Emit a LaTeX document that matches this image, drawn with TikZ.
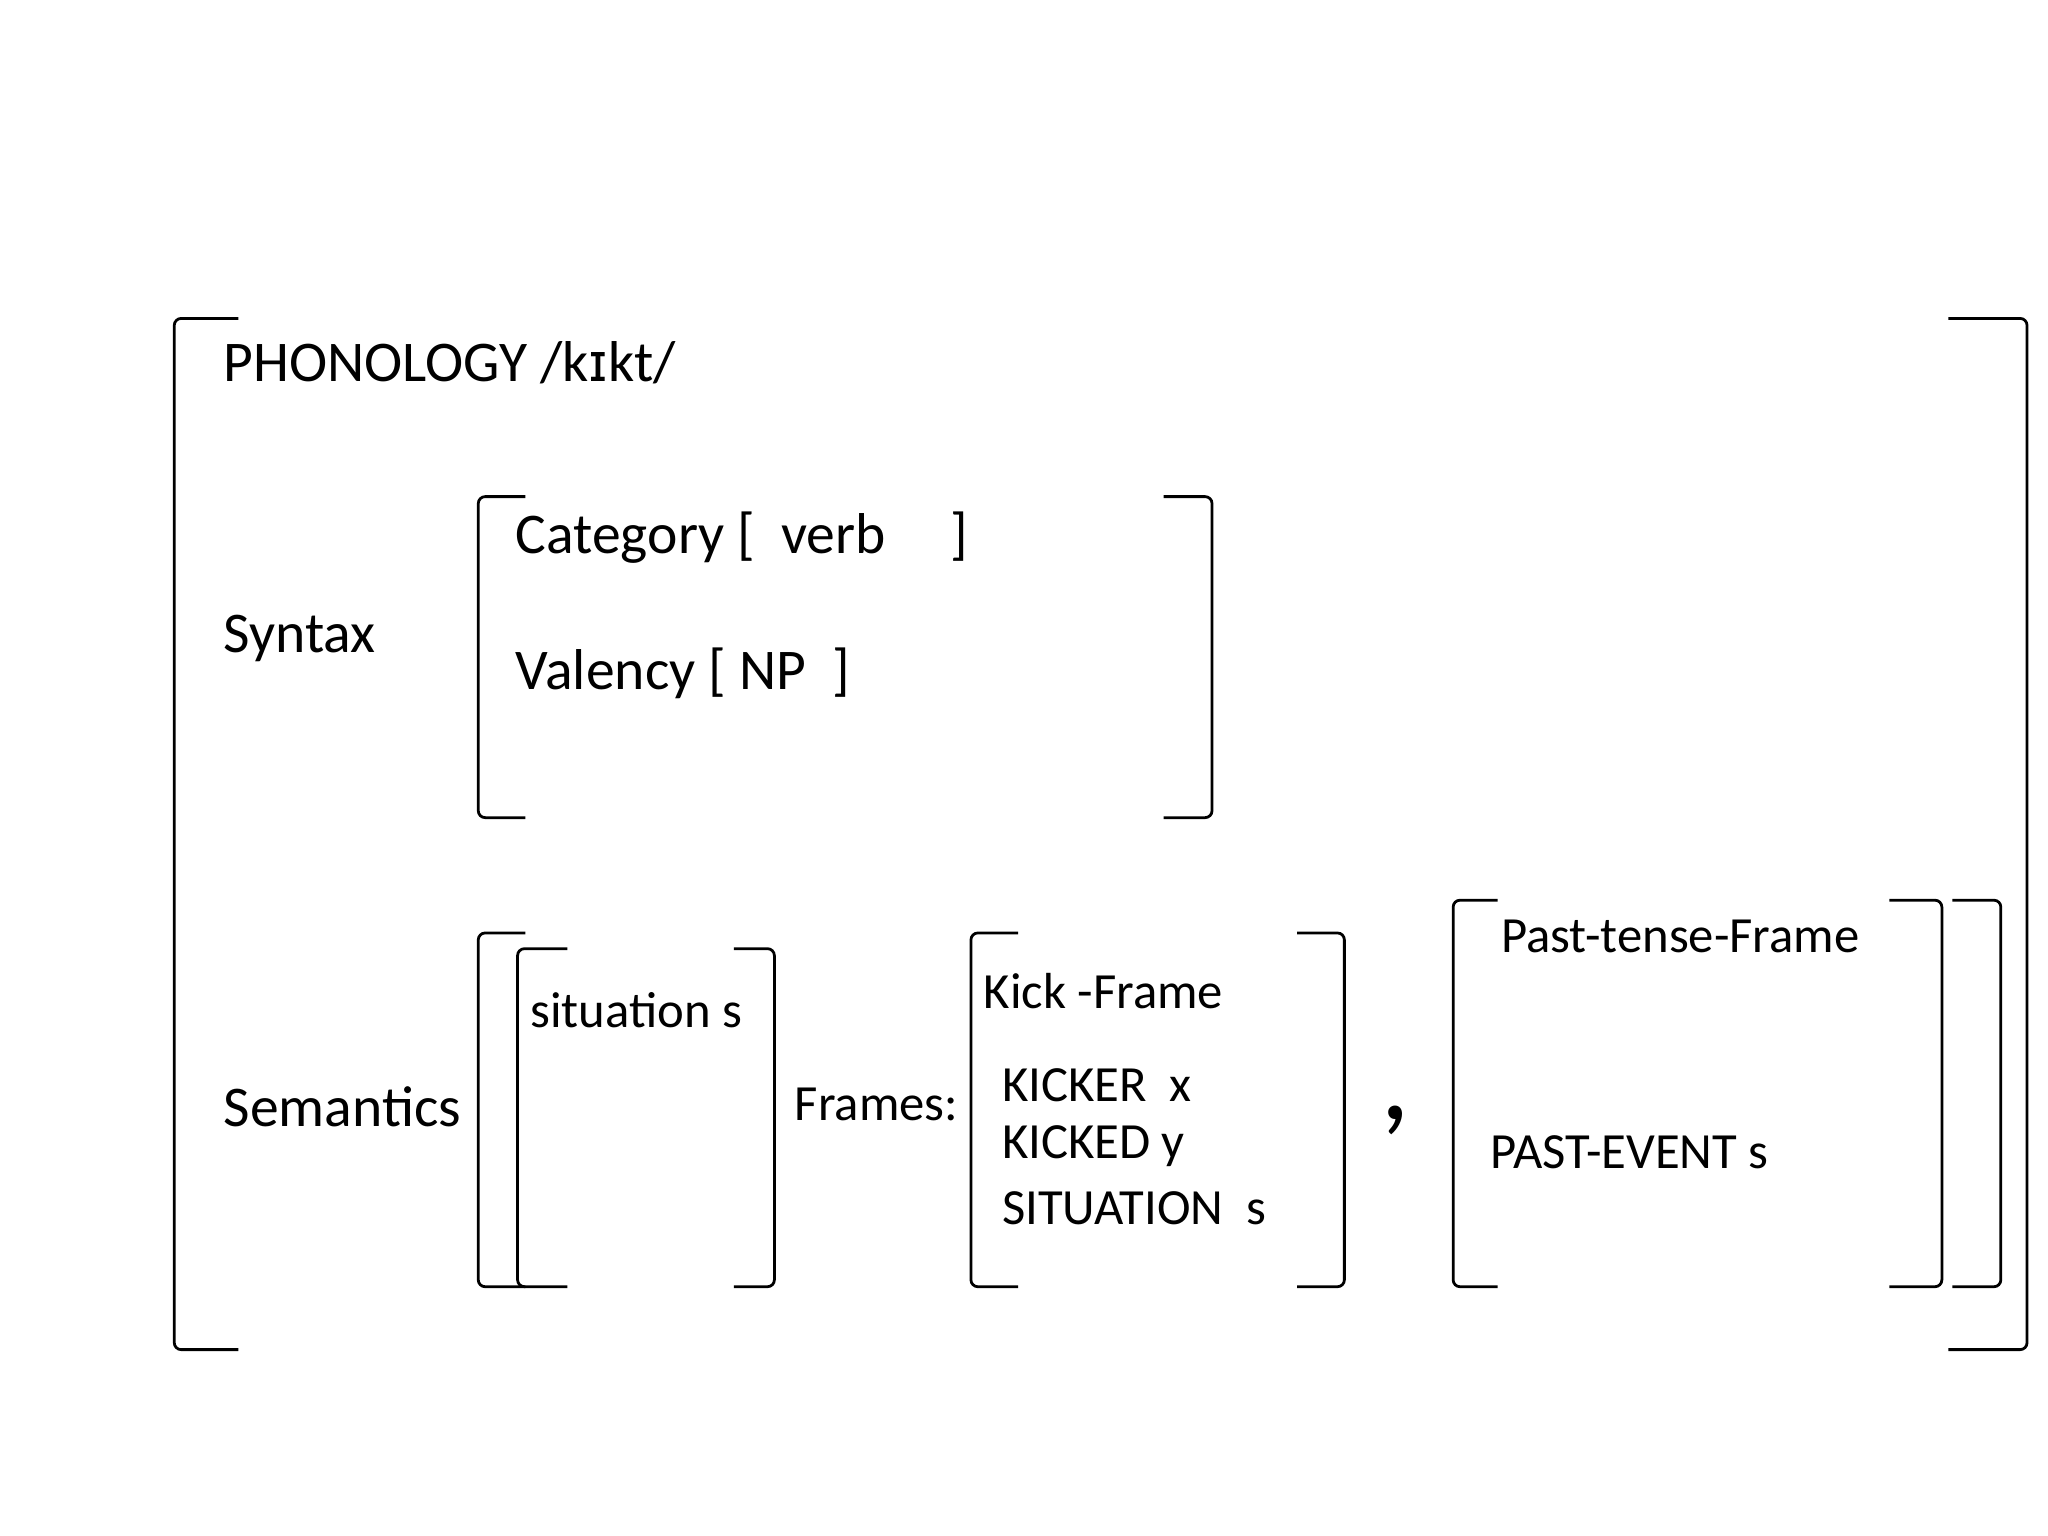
\documentclass[tikz,border=0pt]{standalone}
\usepackage{fontspec}
\setmainfont{Carlito}
\newfontfamily\ipafont{DejaVu Sans}
\usetikzlibrary{positioning}
\begin{document}
\begin{tikzpicture}[x=0.01cm, y=-0.01cm,
    brk/.style={line width=0.6pt, rounded corners=1.5pt},
    big/.style={anchor=west, inner sep=0pt, font=\fontsize{12.5}{14}\selectfont},
    small/.style={anchor=west, inner sep=0pt, font=\fontsize{11}{13}\selectfont}
]
\useasboundingbox (0,0) rectangle (1563,1172);

% outer brackets
\draw[brk] (182,243) -- (133,243) -- (133,1030) -- (182,1030);
\draw[brk] (1487,243) -- (1547,243) -- (1547,1030) -- (1487,1030);

\node[big] (phon) at (170,277) {PHONOLOGY /k{\ipafont\fontsize{11.5}{14}\selectfont ɪ}kt/};

% syntax
\node[big] (syn) at (170,487) {Syntax};
\draw[brk] (401,379) -- (365,379) -- (365,624) -- (401,624);
\draw[brk] (888,379) -- (925,379) -- (925,624) -- (888,624);
\node[big] (cat) at (393,410) {Category [\ \ verb\ \ \ \ \ ]};
\node[big] (val) at (393,514) {Valency [ NP\ \ ]};

% semantics
\node[big] (sem) at (170,845) {Semantics};
\draw[brk] (401,712) -- (365,712) -- (365,982) -- (401,982);
\draw[brk] (1490,687) -- (1527,687) -- (1527,982) -- (1490,982);
\draw[brk] (433,724) -- (395,724) -- (395,982) -- (433,982);
\draw[brk] (560,724) -- (591,724) -- (591,982) -- (560,982);
\node[small] (sit) at (404,771) {situation s};
\node[small] (frames) at (606,843) {Frames:};

% kick frame
\draw[brk] (777,712) -- (741,712) -- (741,982) -- (777,982);
\draw[brk] (990,712) -- (1026,712) -- (1026,982) -- (990,982);
\node[small] (kick) at (750,756) {Kick -Frame};
\node[small] (kicker) at (764,828) {KICKER\ \ x};
\node[small] (kicked) at (764,875) {KICKED y};
\node[small] (situation) at (764,922) {SITUATION\ \ s};

\node[inner sep=0pt, font=\fontsize{26}{28}\selectfont] (comma) at (1065,855) {,};

% past tense frame
\draw[brk] (1143,687) -- (1109,687) -- (1109,982) -- (1143,982);
\draw[brk] (1442,687) -- (1482,687) -- (1482,982) -- (1442,982);
\node[small] (past) at (1145,715) {Past-tense-Frame};
\node[small] (event) at (1137,879) {PAST-EVENT s};
\end{tikzpicture}
\end{document}
